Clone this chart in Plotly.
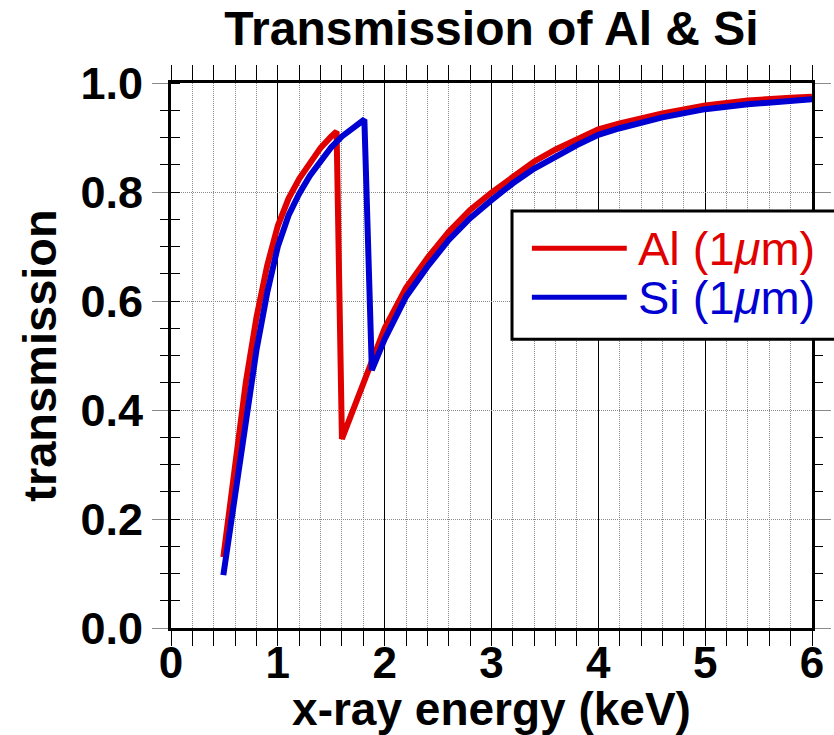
import plotly.graph_objects as go

# Transmission of 1 um aluminium and silicon foils vs. photon energy
al_energy = [0.49, 0.60, 0.70, 0.80, 0.90, 1.00, 1.10, 1.20, 1.30, 1.40, 1.50, 1.55,
             1.60, 1.70, 1.80, 1.88, 2.00, 2.20, 2.40, 2.60, 2.80, 3.00, 3.20, 3.40, 3.60,
             3.80, 4.00, 4.20, 4.60, 5.00, 5.40, 5.80, 6.00]
al_trans = [0.130, 0.300, 0.450, 0.570, 0.665, 0.738, 0.788, 0.824, 0.855, 0.881, 0.902, 0.911,
            0.347, 0.398, 0.447, 0.483, 0.550, 0.624, 0.679, 0.727, 0.767, 0.799, 0.829, 0.856, 0.878,
            0.898, 0.915, 0.926, 0.944, 0.959, 0.968, 0.973, 0.975]

si_energy = [0.49, 0.60, 0.70, 0.80, 0.90, 1.00, 1.10, 1.20, 1.30, 1.40, 1.50, 1.60, 1.70, 1.81,
             1.88, 2.00, 2.20, 2.40, 2.60, 2.80, 3.00, 3.20, 3.40, 3.60, 3.80, 4.00, 4.20, 4.60,
             5.00, 5.40, 5.80, 6.00]
si_trans = [0.097, 0.250, 0.390, 0.510, 0.615, 0.700, 0.757, 0.797, 0.830, 0.858, 0.882, 0.902, 0.918, 0.933,
            0.473, 0.530, 0.608, 0.663, 0.712, 0.752, 0.785, 0.816, 0.843, 0.866, 0.886, 0.905, 0.917, 0.937,
            0.952, 0.961, 0.968, 0.970]

series_names = ["Al (1<i>\u03bc</i>m)", "Si (1<i>\u03bc</i>m)"]
series_colors = ["#e00000", "#0000d2"]

x_ticks = [0, 1, 2, 3, 4, 5, 6]
y_ticks = [0.0, 0.2, 0.4, 0.6, 0.8, 1.0]

FONT = "Liberation Sans, Arial, Helvetica, sans-serif"
GRID_GRAY = "#8a8a8a"
DOTS = "1px,1px"

fig = go.Figure()
for xs, ys, name, color in [(al_energy, al_trans, series_names[0], series_colors[0]),
                            (si_energy, si_trans, series_names[1], series_colors[1])]:
    fig.add_trace(go.Scatter(x=xs, y=ys, mode="lines", name=name,
                             line=dict(color=color, width=6), showlegend=False))

# empty trace so the overlay axis (inner halves of the minor y ticks) gets drawn
fig.add_trace(go.Scatter(x=[], y=[], yaxis="y2", showlegend=False, hoverinfo="skip"))

fig.update_layout(
    width=834, height=735,
    margin=dict(l=171, r=22, t=83, b=107),
    paper_bgcolor="white", plot_bgcolor="white",
    font=dict(family=FONT, color="black"),
    title=dict(text="<b>Transmission of Al &amp; Si</b>", font=dict(size=48, family=FONT),
               x=0.5, xref="paper", xanchor="center", y=0.962, yref="container", yanchor="middle"),
    xaxis=dict(
        range=[0, 6], tickvals=x_ticks, ticks="outside", ticklen=15, tickwidth=1, tickcolor="black",
        showline=True, linewidth=3, linecolor="black", mirror="allticks", automargin=False,
        showgrid=True, gridcolor="black", gridwidth=1, zeroline=False,
        tickfont=dict(size=44, family=FONT, weight="bold"), ticklabelstandoff=-21,
        minor=dict(dtick=0.2, ticks="outside", ticklen=8, tickwidth=1, tickcolor="black",
                   showgrid=True, gridcolor=GRID_GRAY, gridwidth=1, griddash=DOTS),
        title=dict(text="x-ray energy (keV)", font=dict(size=46, family=FONT, weight="bold"), standoff=12),
    ),
    yaxis=dict(
        range=[0, 1], tickvals=y_ticks, tickformat=".1f", ticks="outside", ticklen=16, tickwidth=1,
        tickcolor=GRID_GRAY, showline=True, linewidth=3, linecolor="black", mirror="allticks",
        automargin=False,
        showgrid=True, gridcolor=GRID_GRAY, gridwidth=1, griddash=DOTS, zeroline=False,
        tickfont=dict(size=45, family=FONT, weight="bold"),
        minor=dict(dtick=0.05, ticks="outside", ticklen=8, tickwidth=1, tickcolor="black", showgrid=False),
        title=dict(text="transmission", font=dict(size=47, family=FONT, weight="bold"), standoff=9),
    ),
    yaxis2=dict(
        range=[0, 1], overlaying="y", anchor="x", side="left", showline=False, showgrid=False,
        zeroline=False, showticklabels=False, ticks="", mirror="allticks", automargin=False,
        tickvals=y_ticks,
        minor=dict(dtick=0.05, ticks="inside", ticklen=9, tickwidth=1, tickcolor="black", showgrid=False),
    ),
)

# legend box with line samples and coloured labels
box = dict(x0=0.532, x1=1.045, y0=0.530, y1=0.765)
fig.add_shape(type="rect", xref="paper", yref="paper", layer="above",
              line=dict(color="black", width=3), fillcolor="white", **box)
row_y = [0.697, 0.607]
for name, color, ry in zip(series_names, series_colors, row_y):
    fig.add_shape(type="line", xref="paper", yref="paper", layer="above",
                  x0=0.563, x1=0.711, y0=ry, y1=ry, line=dict(color=color, width=5))
    fig.add_annotation(xref="paper", yref="paper", x=0.725, y=ry, xanchor="left", yanchor="middle",
                       text=name, showarrow=False, font=dict(size=47, family=FONT, color=color))

fig.write_html("out.html")
